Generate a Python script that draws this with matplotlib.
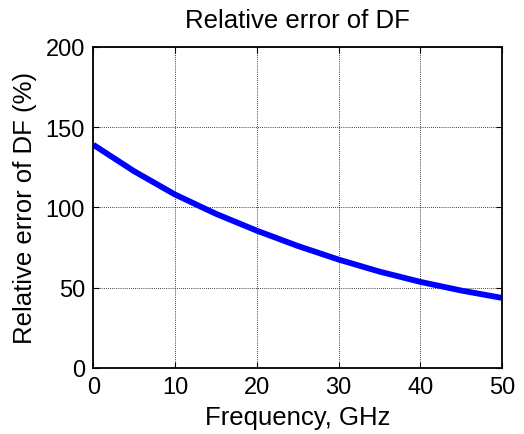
import matplotlib
matplotlib.use('Agg')
import matplotlib.pyplot as plt

# Relative error of the dissipation factor versus frequency
freq_ghz = [0, 5, 10, 15, 20, 25, 30, 35, 40, 45, 50]
rel_err_pct = [139, 122.5, 108, 96, 85.5, 76, 67.5, 60, 53.6, 48.2, 43.6]

x_ticks = [0, 10, 20, 30, 40, 50]
y_ticks = [0, 50, 100, 150, 200]

plt.rcParams['font.family'] = ['Liberation Sans', 'DejaVu Sans']

fig = plt.figure(figsize=(5.24, 4.35), dpi=100)
ax = fig.add_axes([0.178, 0.152, 0.780, 0.738])

ax.plot(freq_ghz, rel_err_pct, color='#0000ff', linewidth=4.2,
        solid_capstyle='butt', solid_joinstyle='round')

ax.set_xlim(0, 50)
ax.set_ylim(0, 200)
ax.set_xticks(x_ticks)
ax.set_yticks(y_ticks)
ax.grid(True, color='black', linestyle=(0, (1, 1.5)), linewidth=0.6)
ax.tick_params(direction='in', length=4, width=0.8, labelsize=17, pad=6,
               top=True, right=True)
for s in ax.spines.values():
    s.set_linewidth(1.3)

ax.set_title('Relative error of DF', fontsize=18.5, pad=14)
ax.set_xlabel('Frequency, GHz', fontsize=18.5, labelpad=5)
ax.set_ylabel('Relative error of DF (%)', fontsize=18.5, labelpad=6)

fig.savefig('out.png', dpi=100)
